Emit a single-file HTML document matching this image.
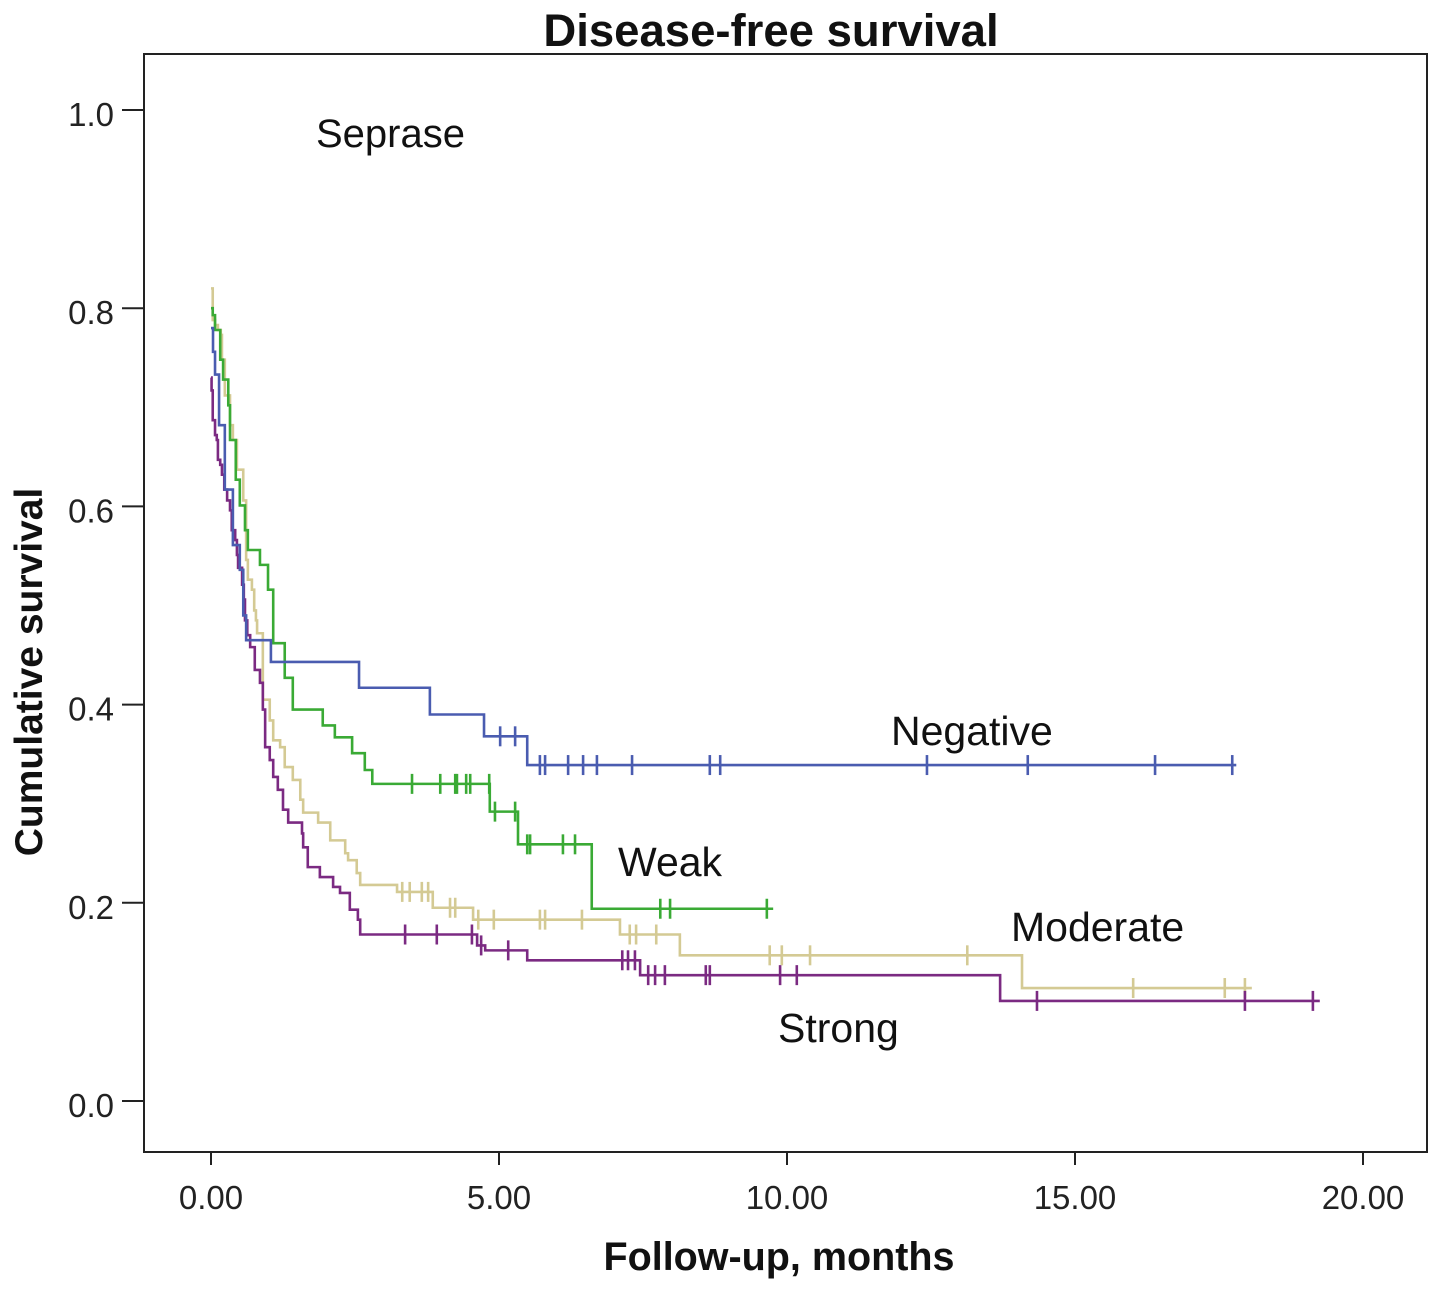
<!DOCTYPE html>
<html><head><meta charset="utf-8"><style>
body{margin:0;background:#fff}
svg text{font-family:"Liberation Sans",Arial,sans-serif}
</style></head><body>
<svg id="chart" width="1441" height="1291" xmlns="http://www.w3.org/2000/svg">
<rect x="0" y="0" width="1441" height="1291" fill="#fff"/>
<text x="771" y="46" font-size="45.5" font-weight="bold" text-anchor="middle" fill="#111">Disease-free survival</text>
<rect x="144" y="54" width="1283" height="1098" fill="none" stroke="#222" stroke-width="2"/>
<text x="779" y="1270" font-size="39.5" font-weight="bold" text-anchor="middle" fill="#111">Follow-up, months</text>
<text transform="translate(42,672) rotate(-90)" font-size="39" font-weight="bold" text-anchor="middle" fill="#111">Cumulative survival</text>
<text x="316" y="147" font-size="40" fill="#111">Seprase</text>
<text x="891" y="745" font-size="41" fill="#111">Negative</text>
<text x="618" y="876" font-size="41" fill="#111">Weak</text>
<text x="1011" y="941" font-size="41" fill="#111">Moderate</text>
<text x="778" y="1042" font-size="41" fill="#111">Strong</text>
<g id="axes"></g>
<g id="series"></g>
</svg>
<script>
const xTicks=[0,5,10,15,20];
const xTickLabels=["0.00","5.00","10.00","15.00","20.00"];
const yTicks=[0,0.2,0.4,0.6,0.8,1.0];
const yTickLabels=["0.0","0.2","0.4","0.6","0.8","1.0"];

const negStart=0.78;
const negTimes=[0.035,0.07,0.14,0.24,0.38,0.50,0.56,0.61,1.04,2.57,3.80,4.74,5.49];
const negSurv=[0.756,0.733,0.682,0.617,0.561,0.536,0.49,0.465,0.443,0.417,0.39,0.368,0.339];
const negEnd=17.8;
const negCensor=[5.02,5.28,5.71,5.80,6.20,6.46,6.70,7.31,8.66,8.84,12.43,14.18,16.39,17.73];

const weakStart=0.80;
const weakTimes=[0.03,0.07,0.16,0.21,0.30,0.33,0.43,0.50,0.59,0.64,0.85,0.99,1.08,1.28,1.42,1.94,2.15,2.45,2.67,2.80,4.84,5.33,6.61];
const weakSurv=[0.793,0.778,0.748,0.728,0.702,0.667,0.627,0.601,0.576,0.556,0.541,0.516,0.462,0.427,0.395,0.379,0.367,0.351,0.334,0.32,0.292,0.259,0.194];
const weakEnd=9.76;
const weakCensor=[3.49,3.98,4.24,4.27,4.43,4.50,4.83,4.93,5.28,5.49,5.54,6.11,6.32,7.80,7.97,9.65];

const modStart=0.82;
const modTimes=[0.03,0.07,0.12,0.17,0.19,0.24,0.33,0.38,0.45,0.56,0.61,0.64,0.71,0.75,0.78,0.80,0.90,1.02,1.08,1.20,1.28,1.42,1.55,1.60,1.86,2.07,2.33,2.38,2.53,2.59,3.23,3.85,4.55,7.10,8.14,14.08];
const modSurv=[0.788,0.783,0.778,0.773,0.748,0.712,0.682,0.667,0.637,0.606,0.546,0.526,0.516,0.495,0.485,0.472,0.405,0.384,0.364,0.357,0.337,0.324,0.304,0.291,0.281,0.263,0.25,0.243,0.23,0.218,0.211,0.195,0.183,0.168,0.147,0.114];
const modEnd=18.07;
const modCensor=[3.32,3.45,3.66,3.77,4.15,4.24,4.64,4.91,5.71,5.80,6.44,7.27,7.38,7.73,9.70,9.91,10.40,13.13,16.01,17.60,17.95];

const strStart=0.73;
const strTimes=[0.01,0.03,0.07,0.10,0.12,0.16,0.19,0.23,0.28,0.33,0.36,0.42,0.45,0.47,0.54,0.57,0.59,0.63,0.68,0.76,0.85,0.90,0.94,1.02,1.08,1.16,1.25,1.34,1.58,1.60,1.68,1.89,2.12,2.24,2.41,2.55,2.59,4.62,4.76,5.49,7.45,13.70];
const strSurv=[0.717,0.687,0.672,0.667,0.647,0.642,0.632,0.617,0.606,0.596,0.576,0.566,0.551,0.538,0.521,0.506,0.485,0.47,0.458,0.435,0.422,0.395,0.357,0.344,0.327,0.314,0.294,0.281,0.27,0.256,0.236,0.226,0.216,0.21,0.193,0.183,0.168,0.157,0.152,0.142,0.127,0.101];
const strEnd=19.25;
const strCensor=[3.37,3.92,4.53,4.69,5.16,7.14,7.24,7.36,7.59,7.71,7.88,8.59,8.66,9.88,10.17,14.34,17.95,19.13];

const NS="http://www.w3.org/2000/svg";
const xs=t=>211+t*57.6;
const ys=v=>1101-v*991;
const axes=document.getElementById('axes');
const ser=document.getElementById('series');
function mk(tag,attrs,parent){const e=document.createElementNS(NS,tag);for(const k in attrs)e.setAttribute(k,attrs[k]);parent.appendChild(e);return e;}

xTicks.forEach((t,i)=>{
  const l=mk('line',{x1:xs(t),x2:xs(t),y1:1152,y2:1165,stroke:'#222','stroke-width':2},axes);
  
  
  const tx=mk('text',{x:xs(t),y:1209,'font-size':33,'text-anchor':'middle',fill:'#222'},axes);
  tx.textContent=xTickLabels[i];
  
  
});
yTicks.forEach((v,i)=>{
  const l=mk('line',{x1:122,x2:144,y1:ys(v),y2:ys(v),stroke:'#222','stroke-width':2},axes);
  
  
  const tx=mk('text',{x:114,y:ys(v)+16,'font-size':33,'text-anchor':'end',fill:'#222'},axes);
  tx.textContent=yTickLabels[i];
  
  
});

function survAt(start,times,surv,t){let s=start;for(let i=0;i<times.length;i++){if(times[i]<=t)s=surv[i];}return s;}
function drawSeries(name,color,start,times,surv,end,cens){
  let d='M'+xs(0)+','+ys(start);
  for(let i=0;i<times.length;i++){d+=' H'+xs(times[i])+' V'+ys(surv[i]);}
  d+=' H'+xs(end);
  const p=mk('path',{d:d,fill:'none',stroke:color,'stroke-width':2.6},ser);
  
  
  cens.forEach(t=>{
    const v=survAt(start,times,surv,t);
    const c=mk('line',{x1:xs(t),x2:xs(t),y1:ys(v)-10,y2:ys(v)+10,stroke:color,'stroke-width':2.6},ser);
    
    
  });
}
drawSeries('moderate','#d4ca94',modStart,modTimes,modSurv,modEnd,modCensor);
drawSeries('strong','#7b2a82',strStart,strTimes,strSurv,strEnd,strCensor);
drawSeries('weak','#3aaa35',weakStart,weakTimes,weakSurv,weakEnd,weakCensor);
drawSeries('negative','#4a5cb0',negStart,negTimes,negSurv,negEnd,negCensor);
</script>
</body></html>
